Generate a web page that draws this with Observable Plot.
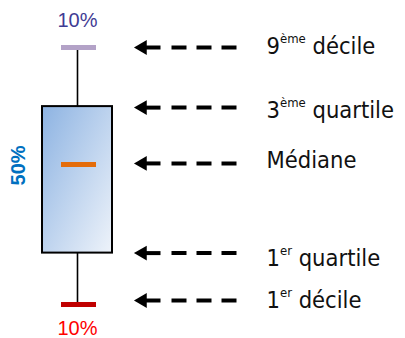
<!DOCTYPE html>
<html>
<head>
<meta charset="utf-8">
<script src="https://cdn.jsdelivr.net/npm/d3@7"></script>
<script src="https://cdn.jsdelivr.net/npm/@observablehq/plot@0.6"></script>
<style>
  html, body { margin: 0; padding: 0; background: #fff; }
</style>
</head>
<body>
<div id="chart"></div>
<script>
// ---- data ----
const statNames = ["d9", "q3", "median", "q1", "d1"];
const statValues = [100, 77, 54.5, 20, 0];
const labelBase = ["9", "3", "Médiane", "1", "1"];
const labelSup = ["ème", "ème", "", "er", "er"];
const labelRest = [" décile", " quartile", "", " quartile", " décile"];
const shareLabels = ["10%", "50%", "10%"];

// ---- layout ----
const val = Object.fromEntries(statNames.map((n, i) => [n, statValues[i]]));
const boxCx = 77, boxX1 = 42, boxX2 = 112, capX1 = 61, capX2 = 96;
const arrowDy = [0, 1, -1, 0, -4];
const textDy = [-1, 4, -4, 5, -4];
const labelFont = "'DejaVu Sans Condensed', 'DejaVu Sans', sans-serif";
const pctFont = "'Liberation Sans', Arial, sans-serif";

const defs = () => {
  const d = d3.create("svg:defs");
  const g = d.append("linearGradient").attr("id", "boxGrad")
    .attr("x1", "0").attr("y1", "0").attr("x2", "1").attr("y2", "1");
  g.append("stop").attr("offset", "0%").attr("stop-color", "#8db3e2");
  g.append("stop").attr("offset", "100%").attr("stop-color", "#eef3fa");
  return d.node();
};

const arrowMarks = statValues.flatMap((v, i) => [
  Plot.link([v], {x1: 236, x2: 171, y1: d => d, y2: d => d, stroke: "black", strokeWidth: 4, strokeDasharray: "15,10", dy: arrowDy[i]}),
  Plot.link([v], {x1: 160, x2: 140, y1: d => d, y2: d => d, stroke: "black", strokeWidth: 4, dy: arrowDy[i]}),
  Plot.dot([v], {x: 142, y: d => d, symbol: "triangle", r: 5.5, fill: "black", stroke: "none", rotate: -90, dy: arrowDy[i]}),
  Plot.text([v], {x: 266, y: d => d, text: () => labelBase[i] + labelSup[i] + labelRest[i], textAnchor: "start",
    fontSize: 23.5, fontFamily: labelFont, fill: "#111", dy: textDy[i]})
]);

const chart = Plot.plot({
  width: 405,
  height: 338,
  margin: 0,
  style: {background: "white", overflow: "visible"},
  x: {domain: [0, 405], range: [0, 405], axis: null},
  y: {domain: [0, 100], range: [304, 47], axis: null},
  marks: [
    defs,
    Plot.ruleX([boxCx], {y1: val.d1, y2: val.d9, stroke: "black", strokeWidth: 1.6}),
    Plot.rect([0], {x1: boxX1, x2: boxX2, y1: val.q1, y2: val.q3, fill: "url(#boxGrad)", stroke: "black", strokeWidth: 2}),
    Plot.ruleY([val.d9], {x1: capX1, x2: capX2, stroke: "#b3a2c7", strokeWidth: 5}),
    Plot.ruleY([val.median], {x1: capX1, x2: capX2, stroke: "#e46c0a", strokeWidth: 5}),
    Plot.ruleY([val.d1], {x1: capX1, x2: capX2, stroke: "#c00000", strokeWidth: 5}),
    Plot.text([val.d9], {x: boxCx, y: d => d, text: () => shareLabels[0], fontSize: 20, fontFamily: pctFont, fill: "#3f3c94", dy: -27}),
    Plot.text([val.median], {x: 18, y: d => d, text: () => shareLabels[1], fontSize: 20, fontWeight: "bold", fontFamily: pctFont, fill: "#0070c0", rotate: -90, dy: 1}),
    Plot.text([val.d1], {x: boxCx, y: d => d, text: () => shareLabels[2], fontSize: 20, fontFamily: pctFont, fill: "#ff0000", dy: 24}),
    ...arrowMarks
  ]
});

// superscripts
const full = new Map(labelBase.map((b, i) => [b + labelSup[i] + labelRest[i], i]));
d3.select(chart).selectAll("text").each(function() {
  const t = this.textContent;
  if (!full.has(t)) return;
  const i = full.get(t);
  if (!labelSup[i]) return;
  const s = d3.select(this);
  s.text(null);
  s.append("tspan").text(labelBase[i]);
  s.append("tspan").attr("font-size", 13).attr("dy", -11).text(labelSup[i]);
  s.append("tspan").attr("dy", 11).text(labelRest[i]);
});

document.getElementById("chart").appendChild(chart);
</script>
</body>
</html>
